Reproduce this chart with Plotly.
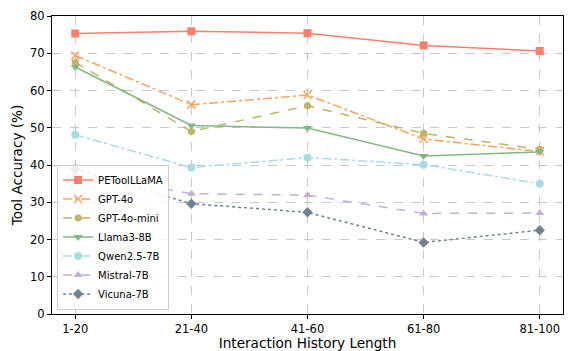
import plotly.graph_objects as go

categories = ["1-20", "21-40", "41-60", "61-80", "81-100"]
petoolllama = [75.3, 75.9, 75.4, 72.1, 70.6]
gpt4o = [69.4, 56.2, 58.8, 47.0, 43.6]
gpt4o_mini = [67.6, 49.0, 55.9, 48.5, 44.2]
llama3_8b = [66.3, 50.6, 49.9, 42.4, 43.5]
qwen25_7b = [48.1, 39.3, 42.0, 40.1, 35.0]
mistral_7b = [37.6, 32.3, 31.9, 27.0, 27.1]
vicuna_7b = [38.9, 29.6, 27.3, 19.2, 22.5]

series = [
    ("PEToolLLaMA", petoolllama, "#FA7F6F", "solid", "square"),
    ("GPT-4o", gpt4o, "#F8A45F", "dashdot", "x-thin"),
    ("GPT-4o-mini", gpt4o_mini, "#BEB566", "dash", "hexagon"),
    ("Llama3-8B", llama3_8b, "#82B883", "solid", "triangle-down"),
    ("Qwen2.5-7B", qwen25_7b, "#A8DCE3", "dashdot", "circle"),
    ("Mistral-7B", mistral_7b, "#C3AFD8", "dash", "triangle-up"),
    ("Vicuna-7B", vicuna_7b, "#6F8393", "dot", "diamond"),
]

fig = go.Figure()
for name, vals, color, dash, sym in series:
    marker = dict(symbol=sym, size=8, color=color)
    if sym == "x-thin":
        marker = dict(symbol=sym, size=8, color=color, line=dict(width=1.5, color=color))
    fig.add_trace(go.Scatter(
        x=list(range(len(categories))), y=vals, name=name, mode="lines+markers",
        line=dict(color=color, width=1.5, dash=dash), marker=marker,
    ))

axis_common = dict(
    showline=True, linecolor="black", linewidth=1, mirror=True,
    ticks="outside", ticklen=4, tickcolor="black",
    showgrid=True, gridcolor="#c8c8c8", griddash="dash", gridwidth=1,
    zeroline=False, tickfont=dict(size=11.5, color="black"),
    title_font=dict(size=13.6, color="black"), automargin=False,
)

fig.update_layout(
    width=565, height=343,
    margin=dict(l=44, r=10, t=8, b=37),
    paper_bgcolor="white", plot_bgcolor="white",
    font=dict(family="DejaVu Sans", color="black"),
    xaxis=dict(tickmode="array", tickvals=list(range(len(categories))), ticktext=categories,
               range=[-0.2, 4.2], title=dict(text="Interaction History Length", standoff=2), **axis_common),
    yaxis=dict(range=[0, 80], dtick=10, title=dict(text="Tool Accuracy (%)", standoff=4), **axis_common),
    legend=dict(x=0.01, y=0.015, xanchor="left", yanchor="bottom",
                bgcolor="rgba(255,255,255,0.85)", bordercolor="#cccccc", borderwidth=1,
                font=dict(size=10), tracegroupgap=0, itemwidth=30),
)

fig.write_html("out.html")
